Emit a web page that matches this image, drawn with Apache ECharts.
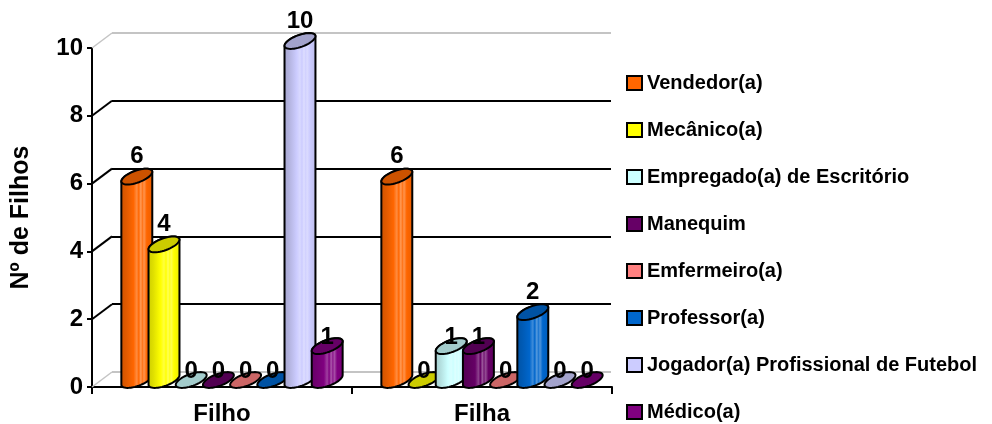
<!DOCTYPE html>
<html>
<head>
<meta charset="utf-8">
<script src="https://cdn.jsdelivr.net/npm/echarts@6/dist/echarts.min.js"></script>
<style>
  html, body { margin: 0; padding: 0; background: #ffffff; }
  #chart { width: 992px; height: 424px; }
</style>
</head>
<body>
<div id="chart"></div>
<script>
// Number of children per parent's occupation, split by son / daughter
const groups = ['Filho', 'Filha'];
const occupations = [
  'Vendedor(a)',
  'Mecânico(a)',
  'Empregado(a) de Escritório',
  'Manequim',
  'Emfermeiro(a)',
  'Professor(a)',
  'Jogador(a) Profissional de Futebol',
  'Médico(a)'
];
const filhoValues = [6, 4, 0, 0, 0, 0, 10, 1];
const filhaValues = [6, 0, 1, 1, 0, 2, 0, 0];
const yTicks = [0, 2, 4, 6, 8, 10];
const palette = ['#FF6600', '#FFFF00', '#CCFFFF', '#660066', '#FF8080', '#0066CC', '#CCCCFF', '#800080'];

const FONT = '"Liberation Sans", Arial, sans-serif';
const Y_MIN = yTicks[0];
const Y_MAX = yTicks[yTicks.length - 1];
const Y_STEP = yTicks[1] - yTicks[0];

// pseudo-3D depth: back wall offset and the bars sitting half-way in
const DEPTH_X = 20, DEPTH_Y = 15;
const BAR_DX = 10, BAR_DY = 7;
const TILT = -20 * Math.PI / 180;

function parseHex(c) {
  return [1, 3, 5].map(i => parseInt(c.substr(i, 2), 16));
}
function toHex(rgb) {
  return '#' + rgb.map(v => Math.max(0, Math.min(255, Math.round(v))).toString(16).padStart(2, '0')).join('');
}
function shade(c, f) { return toHex(parseHex(c).map(v => v * f)); }
function tint(c, t) { return toHex(parseHex(c).map(v => v + (255 - v) * t)); }

// point on a tilted ellipse
function ellipsePoint(cx, cy, a, b, t) {
  return [
    cx + a * Math.cos(t) * Math.cos(TILT) - b * Math.sin(t) * Math.sin(TILT),
    cy + a * Math.cos(t) * Math.sin(TILT) + b * Math.sin(t) * Math.cos(TILT)
  ];
}
function arc(cx, cy, a, b, t0, t1, n) {
  const pts = [];
  for (let i = 0; i <= n; i++) pts.push(ellipsePoint(cx, cy, a, b, t0 + (t1 - t0) * i / n));
  return pts;
}

function cylinderRenderer(k) {
  const base = palette[k];
  const bodyFill = {
    type: 'linear', x: 0, y: 0, x2: 1, y2: 0,
    colorStops: [
      { offset: 0, color: shade(base, 0.8) },
      { offset: 0.18, color: shade(base, 0.88) },
      { offset: 0.4, color: base },
      { offset: 0.5, color: tint(base, 0.25) },
      { offset: 0.56, color: base },
      { offset: 0.62, color: tint(base, 0.35) },
      { offset: 0.67, color: tint(base, 0.1) },
      { offset: 0.72, color: tint(base, 0.3) },
      { offset: 0.8, color: base },
      { offset: 0.92, color: shade(base, 0.95) },
      { offset: 1, color: shade(base, 0.85) }
    ]
  };
  const topFill = shade(base, 0.8);
  return function (params, api) {
    const cat = api.value(0);
    const v = api.value(1);
    const band = api.size([1, 0])[0];
    const step = band * 0.1046;
    const p0 = api.coord([cat, 0]);
    const p1 = api.coord([cat, v]);
    const cx = p0[0] + BAR_DX + (k - 3.5) * step;
    const yBot = p0[1] - BAR_DY;
    const yTop = p1[1] - BAR_DY;
    const a = step * 0.6, b = step * 0.22;
    const tR = Math.atan(-(b * Math.sin(TILT)) / (a * Math.cos(TILT)));
    const tL = tR + Math.PI;
    const children = [];
    if (v > 0) {
      const body = arc(cx, yBot, a, b, tR, tL, 24).concat(arc(cx, yTop, a, b, tL, tR + 2 * Math.PI, 24));
      children.push({
        type: 'polygon', z2: k * 2,
        shape: { points: body },
        style: { fill: bodyFill, stroke: '#000', lineWidth: 2 }
      });
    }
    children.push({
      type: 'polygon', z2: k * 2 + 1,
      shape: { points: arc(cx, yTop, a, b, 0, 2 * Math.PI, 48) },
      style: { fill: topFill, stroke: '#000', lineWidth: 2 }
    });
    children.push({
      type: 'text', z2: 100,
      style: {
        text: String(v), x: cx, y: yTop - (v >= 2 ? 20 : 9),
        align: 'center', verticalAlign: 'middle',
        font: 'bold 24px ' + FONT, fill: '#000'
      }
    });
    return { type: 'group', children };
  };
}

const cylinderSeries = occupations.map((name, k) => ({
  name,
  type: 'custom',
  coordinateSystem: 'cartesian2d',
  xAxisIndex: 0,
  yAxisIndex: 0,
  z: 3,
  itemStyle: { color: palette[k] },
  encode: { x: 0, y: 1 },
  data: [[0, filhoValues[k]], [1, filhaValues[k]]],
  renderItem: cylinderRenderer(k)
}));

// slanted connectors joining the front axis ticks to the back wall lines
const depthSeries = {
  type: 'custom',
  coordinateSystem: 'cartesian2d',
  xAxisIndex: 0,
  yAxisIndex: 0,
  silent: true,
  z: 2,
  encode: { x: 0, y: 1 },
  data: yTicks.map(v => [0, v]),
  renderItem: function (params, api) {
    const v = api.value(1);
    const y = api.coord([0, v])[1];
    const x0 = params.coordSys.x;
    const edge = v === Y_MIN || v === Y_MAX;
    return {
      type: 'line',
      shape: { x1: x0, y1: y, x2: x0 + DEPTH_X, y2: y - DEPTH_Y },
      style: { stroke: edge ? '#c4c4c4' : '#000', lineWidth: edge ? 1.5 : 2 }
    };
  }
};

const frontLeft = 92, frontRight = 380, frontTop = 48, frontBottom = 37;

const option = {
  backgroundColor: '#ffffff',
  animation: false,
  textStyle: { fontFamily: FONT },
  legend: {
    orient: 'vertical',
    left: 626,
    top: 73,
    padding: 0,
    itemGap: 27,
    itemWidth: 15,
    itemHeight: 14,
    icon: 'rect',
    selectedMode: false,
    textStyle: { fontFamily: FONT, fontWeight: 'bold', fontSize: 20, color: '#000' },
    data: occupations.map((name, k) => ({
      name,
      itemStyle: { color: palette[k], borderColor: '#000', borderWidth: 2 }
    }))
  },
  grid: [
    { left: frontLeft, right: frontRight, top: frontTop, bottom: frontBottom, outerBoundsMode: 'none' },
    { left: frontLeft + DEPTH_X, right: frontRight + 1, top: frontTop - DEPTH_Y, bottom: frontBottom + DEPTH_Y, outerBoundsMode: 'none' }
  ],
  xAxis: [
    {
      type: 'category',
      gridIndex: 0,
      data: groups,
      axisLine: { lineStyle: { color: '#000', width: 2 } },
      axisTick: { show: true, length: 7, lineStyle: { color: '#000', width: 2 } },
      axisLabel: { margin: 15, color: '#000', fontFamily: FONT, fontWeight: 'bold', fontSize: 24 }
    },
    {
      type: 'category',
      gridIndex: 1,
      data: groups,
      show: false
    }
  ],
  yAxis: [
    {
      type: 'value',
      gridIndex: 0,
      min: Y_MIN,
      max: Y_MAX,
      interval: Y_STEP,
      name: 'Nº de Filhos',
      nameLocation: 'middle',
      nameRotate: 90,
      nameGap: 58,
      nameTextStyle: { color: '#000', fontFamily: FONT, fontWeight: 'bold', fontSize: 25 },
      axisLine: { show: true, lineStyle: { color: '#000', width: 2 } },
      axisTick: { show: true, length: 5, lineStyle: { color: '#000', width: 2 } },
      axisLabel: { margin: 9, color: '#000', fontFamily: FONT, fontWeight: 'bold', fontSize: 24 },
      splitLine: { show: false }
    },
    {
      type: 'value',
      gridIndex: 1,
      min: Y_MIN,
      max: Y_MAX,
      interval: Y_STEP,
      axisLine: { show: false },
      axisTick: { show: false },
      axisLabel: { show: false },
      splitLine: {
        show: true,
        lineStyle: {
          color: yTicks.map(v => (v === Y_MIN || v === Y_MAX) ? '#c4c4c4' : '#000'),
          width: 2
        }
      }
    }
  ],
  series: [depthSeries].concat(cylinderSeries)
};

const chart = echarts.init(document.getElementById('chart'), null, { renderer: 'canvas' });
chart.setOption(option);
</script>
</body>
</html>
